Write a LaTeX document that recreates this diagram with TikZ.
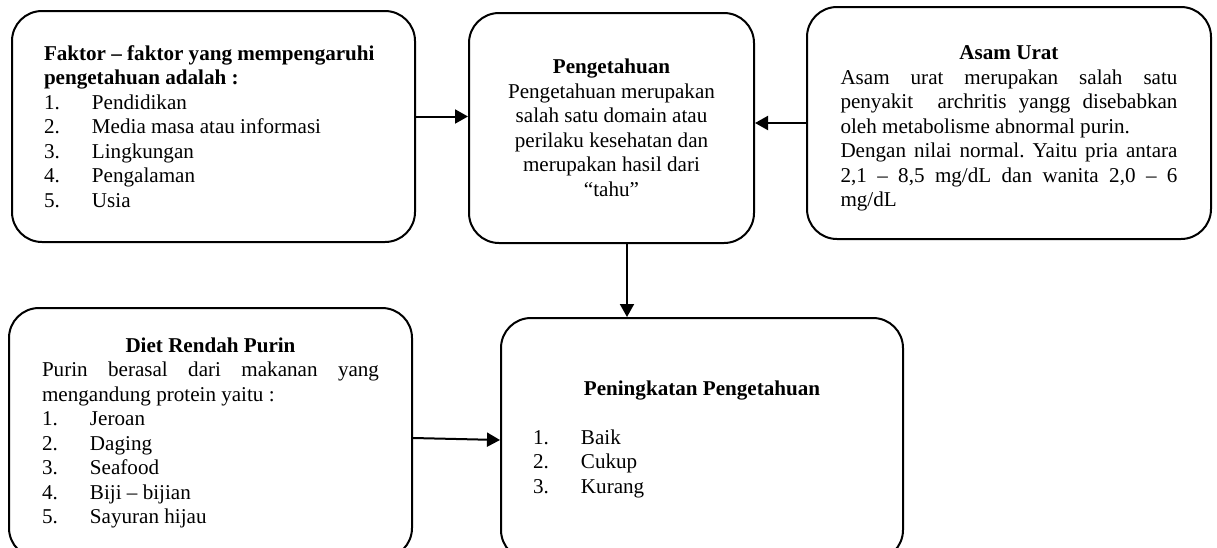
\documentclass[tikz,border=0pt]{standalone}
\usepackage{fontspec}
\setmainfont{Liberation Serif}
\usetikzlibrary{arrows.meta}
\setlength{\parindent}{0pt}
\hyphenpenalty=10000
\exhyphenpenalty=10000
\frenchspacing
\newcommand{\nitem}[2]{\makebox[24pt][l]{#1}#2}
\begin{document}
\begin{tikzpicture} [x=0.5pt,y=-0.5pt,
  box/.style={draw,line width=1pt,rounded corners=15pt,inner sep=0pt,align=justify,font=\fontsize{10.55pt}{12.25pt}\selectfont},
  arr/.style={line width=1pt,-{Triangle[length=6.5pt,width=7pt]}}]
\useasboundingbox (0,0) rectangle (1217,547);
\node [box,minimum width=201.5pt,minimum height=115.5pt,text width=169.5pt] (1) at (213.5,126.5) {%
  \textbf{Faktor -- faktor yang mempengaruhi}\par
  \textbf{pengetahuan adalah :}\par
  \nitem{1.}{Pendidikan}\par
  \nitem{2.}{Media masa atau informasi}\par
  \nitem{3.}{Lingkungan}\par
  \nitem{4.}{Pengalaman}\par
  \nitem{5.}{Usia}};
\node [box,minimum width=142.5pt,minimum height=115pt,align=center] (2) at (611.5,128) {%
  \textbf{Pengetahuan}\\
  Pengetahuan merupakan\\
  salah satu domain atau\\
  perilaku kesehatan dan\\
  merupakan hasil dari\\
  ``tahu''};
\node [box,minimum width=202pt,minimum height=116pt,text width=168.5pt] (3) at (1009,123) {%
  \centerline{\rule{0pt}{12.5pt}\textbf{Asam Urat}}
  Asam urat merupakan salah satu\linebreak
  penyakit \ archritis yangg disebabkan\linebreak
  oleh metabolisme abnormal purin.\par
  Dengan nilai normal. Yaitu pria antara\linebreak
  2,1 -- 8,5 mg/dL dan wanita 2,0 -- 6\linebreak
  mg/dL};
\node [box,minimum width=201.5pt,minimum height=125pt,text width=168.5pt] (4) at (210.5,433) {%
  \centerline{\textbf{Diet Rendah Purin}}
  Purin berasal dari makanan yang\linebreak
  mengandung protein yaitu :\par
  \nitem{1.}{Jeroan}\par
  \nitem{2.}{Daging}\par
  \nitem{3.}{Seafood}\par
  \nitem{4.}{Biji -- bijian}\par
  \nitem{5.}{Sayuran hijau}};
\node [box,minimum width=201pt,minimum height=121pt,text width=169pt] (5) at (702,439) {%
  \centerline{\textbf{Peningkatan Pengetahuan}}
  \vskip12.25pt
  \nitem{1.}{Baik}\par
  \nitem{2.}{Cukup}\par
  \nitem{3.}{Kurang}};
\draw [arr] ([yshift=5pt]1.east) -- ([yshift=5pt]1.east -| 2.west);
\draw [arr] (3.west) -- (3.west -| 2.east);
\draw [arr] ([xshift=7.75pt]2.south) -- ([xshift=7.75pt]2.south |- 5.north);
\draw [arr] ([yshift=-2.5pt]4.east) -- ([yshift=-0.5pt]5.west);
\end{tikzpicture}
\end{document}
